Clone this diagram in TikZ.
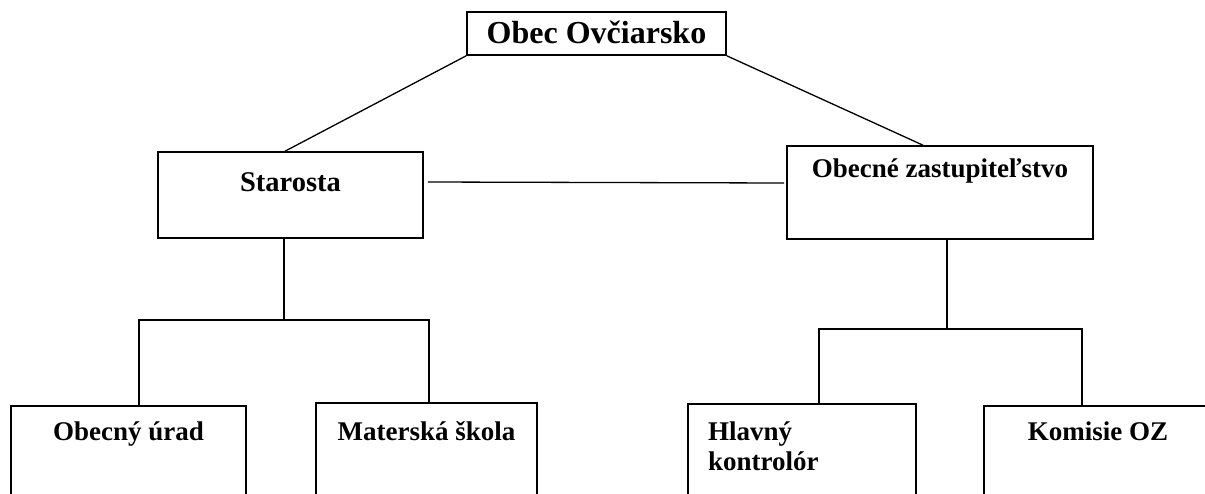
\documentclass[tikz,border=0pt]{standalone}
\usepackage{fontspec}
\setmainfont{Liberation Serif}
\usetikzlibrary{calc}
\begin{document}
\begin{tikzpicture}[x=1pt,y=-1pt,
  box/.style={draw,line width=1.6pt,rectangle,inner sep=0pt},
  conn/.style={line width=1.3pt},
  lbl/.style={inner sep=0pt,anchor=base,font=\bfseries\fontsize{27}{30}\selectfont}]
\useasboundingbox (0,0) rectangle (1205,493);
\clip (0,0) rectangle (1205,493);
% boxes
\node[box,minimum width=259pt,minimum height=43pt] (top) at (596.5,33.5) {};
\node[box,minimum width=265pt,minimum height=86pt] (st) at (290.5,195) {};
\node[box,minimum width=306pt,minimum height=93pt] (oz) at (940,192.5) {};
\node[box,minimum width=235pt,minimum height=114pt] (ou) at (128.5,463) {};
\node[box,minimum width=221pt,minimum height=117pt] (ms) at (426.5,461.5) {};
\node[box,minimum width=228pt,minimum height=116pt] (hk) at (802,462) {};
\node[box,minimum width=228pt,minimum height=114pt] (ko) at (1098,463) {};
% labels
\node[lbl,font=\bfseries\fontsize{32}{36}\selectfont] (ttop) at (596.5,43) {Obec Ovčiarsko};
\node[lbl,font=\bfseries\fontsize{28.5}{30}\selectfont] (tst) at (290.5,191) {Starosta};
\node[lbl] (toz) at (940,177) {Obecné zastupiteľstvo};
\node[lbl] (tou) at (128.5,440) {Obecný úrad};
\node[lbl] (tms) at (426.5,440) {Materská škola};
\node[lbl,anchor=base west] (thk1) at (708,440) {Hlavný};
\node[lbl,anchor=base west] (thk2) at (708,470) {kontrolór};
\node[lbl] (tko) at (1098,440) {Komisie OZ};
% connectors
\draw[conn] (top.south west) -- ($(st.north)+(-5.5,0)$);
\draw[conn] (top.south east) -- ($(oz.north)+(-17,0)$);
\draw[conn] ($(st.east)+(4,-13)$) -- ($(oz.west)+(-2,-9.5)$);
\coordinate (jl) at (284,320);
\coordinate (jr) at (947,329);
\draw[conn] (st.south -| jl) -- (jl);
\draw[conn] (ou.north -| 139,0) |- (jl) -| (ms.north -| 429,0);
\draw[conn] (oz.south -| jr) -- (jr);
\draw[conn] (hk.north -| 819,0) |- (jr) -| (ko.north -| 1082,0);
\end{tikzpicture}
\end{document}
